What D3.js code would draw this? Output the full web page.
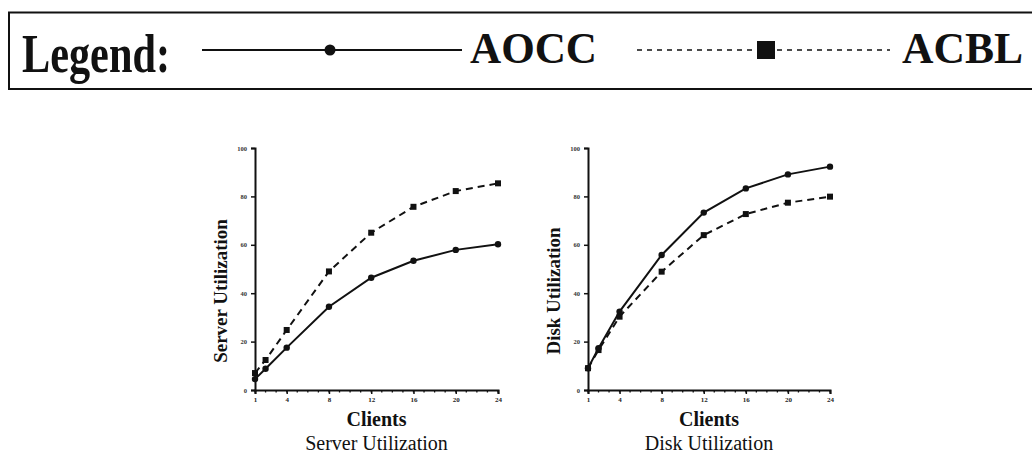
<!DOCTYPE html>
<html>
<head>
<meta charset="utf-8">
<script src="https://cdn.jsdelivr.net/npm/d3@7"></script>
<style>
  body { margin: 0; background: #fff; }
  svg { display: block; }
</style>
</head>
<body>
<div id="chart"></div>
<script>
// data
var clients = [1, 2, 4, 8, 12, 16, 20, 24];
var serverAOCC = [4.5, 8.8, 17.5, 34.4, 46.4, 53.4, 57.9, 60.2];
var serverACBL = [7, 12.4, 24.8, 49, 65, 75.7, 82.2, 85.4];
var diskAOCC = [9, 17.3, 32.4, 55.8, 73.3, 83.3, 89.1, 92.3];
var diskACBL = [9, 16.5, 30.3, 48.9, 64, 72.7, 77.4, 79.9];
var xTicks = [1, 4, 8, 12, 16, 20, 24];
var yTicks = [0, 20, 40, 60, 80, 100];
var seriesNames = ["AOCC", "ACBL"];

function init() {
    var w = 1032;
    var h = 455;
    var serif = "'Liberation Serif', 'Times New Roman', serif";

    var svg = d3.select("#chart")
                .append("svg")
                .attr("width", w)
                .attr("height", h);

    svg.append("rect").attr("width", w).attr("height", h).attr("fill", "#fff");

    //legend box
    var lg = svg.append("g");
    lg.append("rect")
        .attr("x", 9).attr("y", 12.5)
        .attr("width", 1030).attr("height", 76.5)
        .attr("fill", "none").attr("stroke", "#111").attr("stroke-width", 2);

    lg.append("text")
        .attr("x", 22).attr("y", 72)
        .attr("font-family", serif).attr("font-weight", "bold")
        .attr("font-size", 55)
        .attr("textLength", 148).attr("lengthAdjust", "spacingAndGlyphs")
        .attr("fill", "#111")
        .text("Legend:");

    // AOCC sample
    lg.append("line")
        .attr("x1", 202).attr("x2", 462).attr("y1", 50).attr("y2", 50)
        .attr("stroke", "#111").attr("stroke-width", 2);
    lg.append("circle")
        .attr("cx", 330).attr("cy", 50).attr("r", 5.5).attr("fill", "#111");
    lg.append("text")
        .attr("x", 470).attr("y", 63)
        .attr("font-family", serif).attr("font-weight", "bold")
        .attr("font-size", 44)
        .attr("textLength", 127).attr("lengthAdjust", "spacingAndGlyphs")
        .attr("fill", "#111")
        .text(seriesNames[0]);

    // ACBL sample
    lg.append("line")
        .attr("x1", 637).attr("x2", 890).attr("y1", 50).attr("y2", 50)
        .attr("stroke", "#111").attr("stroke-width", 1.5)
        .attr("stroke-dasharray", "5,5");
    lg.append("rect")
        .attr("x", 757).attr("y", 41).attr("width", 18).attr("height", 18)
        .attr("fill", "#111");
    lg.append("text")
        .attr("x", 902).attr("y", 63)
        .attr("font-family", serif).attr("font-weight", "bold")
        .attr("font-size", 44)
        .attr("textLength", 121).attr("lengthAdjust", "spacingAndGlyphs")
        .attr("fill", "#111")
        .text(seriesNames[1]);

    drawPanel(svg, 255, 498, serverAOCC, serverACBL, "Server Utilization", "Server Utilization");
    drawPanel(svg, 588, 830, diskAOCC, diskACBL, "Disk Utilization", "Disk Utilization");

    function drawPanel(svg, left, right, aocc, acbl, yTitle, caption) {
        var top = 148, bottom = 390;

        var xScale = d3.scaleLinear().domain([1, 24]).range([left, right]);
        var yScale = d3.scaleLinear().domain([0, 100]).range([bottom, top]);

        var g = svg.append("g");

        // minor ticks on x every client
        g.selectAll(".minor")
            .data(d3.range(1, 25))
            .enter()
            .append("line")
            .attr("x1", function(d){ return xScale(d); })
            .attr("x2", function(d){ return xScale(d); })
            .attr("y1", bottom).attr("y2", bottom + 2.5)
            .attr("stroke", "#111").attr("stroke-width", 1.3);

        var xAxis = d3.axisBottom(xScale).tickValues(xTicks).tickSize(4).tickPadding(3);
        var gx = g.append("g").attr("transform", "translate(0," + bottom + ")").call(xAxis);
        gx.select(".domain").attr("stroke", "#111").attr("stroke-width", 2);
        gx.selectAll(".tick line").attr("stroke", "#111").attr("stroke-width", 1.5);
        gx.selectAll("text")
            .attr("font-family", serif).attr("font-weight", "bold")
            .attr("font-size", 7).attr("fill", "#222");

        var yAxis = d3.axisLeft(yScale).tickValues(yTicks).tickSize(4).tickPadding(4);
        var gy = g.append("g").attr("transform", "translate(" + left + ",0)").call(yAxis);
        gy.select(".domain").attr("stroke", "#111").attr("stroke-width", 2);
        gy.selectAll(".tick line").attr("stroke", "#111").attr("stroke-width", 1.5);
        gy.selectAll("text")
            .attr("font-family", serif).attr("font-weight", "bold")
            .attr("font-size", 6.5).attr("fill", "#333");

        var line = d3.line()
            .x(function(d){ return xScale(d[0]); })
            .y(function(d){ return yScale(d[1]); });

        var ptsA = d3.zip(clients, aocc);
        var ptsB = d3.zip(clients, acbl);

        g.append("path")
            .datum(ptsB)
            .attr("d", line)
            .attr("fill", "none").attr("stroke", "#111")
            .attr("stroke-width", 2).attr("stroke-dasharray", "7,5");

        g.append("path")
            .datum(ptsA)
            .attr("d", line)
            .attr("fill", "none").attr("stroke", "#111")
            .attr("stroke-width", 2);

        g.selectAll(".sq")
            .data(ptsB)
            .enter()
            .append("rect")
            .attr("x", function(d){ return xScale(d[0]) - 3; })
            .attr("y", function(d){ return yScale(d[1]) - 3; })
            .attr("width", 6).attr("height", 6)
            .attr("fill", "#111");

        g.selectAll(".dot")
            .data(ptsA)
            .enter()
            .append("circle")
            .attr("cx", function(d){ return xScale(d[0]); })
            .attr("cy", function(d){ return yScale(d[1]); })
            .attr("r", 3.2)
            .attr("fill", "#111");

        // titles
        g.append("text")
            .attr("transform", "translate(" + (left - 28) + ",291) rotate(-90)")
            .attr("text-anchor", "middle")
            .attr("font-family", serif).attr("font-weight", "bold")
            .attr("font-size", 19).attr("fill", "#111")
            .text(yTitle);

        var cx = (left + right) / 2;
        g.append("text")
            .attr("x", cx).attr("y", 426)
            .attr("text-anchor", "middle")
            .attr("font-family", serif).attr("font-weight", "bold")
            .attr("font-size", 20).attr("fill", "#111")
            .text("Clients");

        g.append("text")
            .attr("x", cx).attr("y", 450)
            .attr("text-anchor", "middle")
            .attr("font-family", serif)
            .attr("font-size", 20).attr("fill", "#111")
            .text(caption);
    }
}

window.onload = init;
</script>
</body>
</html>
